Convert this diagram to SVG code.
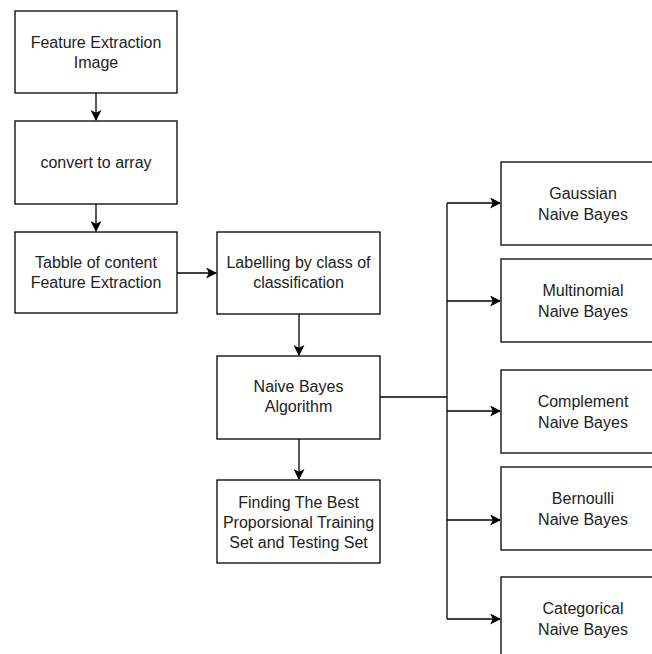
<svg xmlns="http://www.w3.org/2000/svg" width="652" height="654" viewBox="0 0 652 654">
<defs>
<marker id="arr" viewBox="0 0 10 10" refX="9" refY="5" markerWidth="11" markerHeight="11" markerUnits="userSpaceOnUse" orient="auto">
<path d="M0,0 L10,5 L0,10 L2.5,5 Z" fill="#000"/>
</marker>
<style>
.box{fill:#fff;stroke:#000;stroke-width:1.3}
.t{font-family:"Liberation Sans",Arial,sans-serif;font-size:16px;fill:#222;text-anchor:middle}
.c{fill:none;stroke:#000;stroke-width:1.3}
</style>
</defs>
<rect width="652" height="654" fill="#fff"/>
<g id="connectors">
<path class="c" d="M96,93 V120" marker-end="url(#arr)"/>
<path class="c" d="M96,204 V231" marker-end="url(#arr)"/>
<path class="c" d="M176,273 H216" marker-end="url(#arr)"/>
<path class="c" d="M299,314 V355" marker-end="url(#arr)"/>
<path class="c" d="M299,439 V479" marker-end="url(#arr)"/>
<path class="c" d="M380,397 H447"/>
<path class="c" d="M447,203 V619"/>
<path class="c" d="M447,203 H500" marker-end="url(#arr)"/>
<path class="c" d="M447,301 H500" marker-end="url(#arr)"/>
<path class="c" d="M447,411 H500" marker-end="url(#arr)"/>
<path class="c" d="M447,520 H500" marker-end="url(#arr)"/>
<path class="c" d="M447,619 H500" marker-end="url(#arr)"/>
</g>
<g id="n1"><rect class="box" x="15" y="11" width="162" height="82"/>
<text class="t" x="96" y="48">Feature Extraction</text><text class="t" x="96" y="68">Image</text></g>
<g id="n2"><rect class="box" x="15" y="121" width="162" height="83"/>
<text class="t" x="96" y="168">convert to array</text></g>
<g id="n3"><rect class="box" x="15" y="232" width="162" height="81"/>
<text class="t" x="96" y="268">Tabble of content</text><text class="t" x="96" y="288">Feature Extraction</text></g>
<g id="n4"><rect class="box" x="217" y="232" width="163" height="82"/>
<text class="t" x="298.5" y="268">Labelling by class of</text><text class="t" x="298.5" y="288">classification</text></g>
<g id="n5"><rect class="box" x="217" y="356" width="163" height="83"/>
<text class="t" x="298.5" y="392">Naive Bayes</text><text class="t" x="298.5" y="412">Algorithm</text></g>
<g id="n6"><rect class="box" x="217" y="480" width="163" height="83"/>
<text class="t" x="298.5" y="508">Finding The Best</text><text class="t" x="298.5" y="528">Proporsional Training</text><text class="t" x="298.5" y="548">Set and Testing Set</text></g>
<g id="n7"><rect class="box" x="501" y="162" width="164" height="83"/>
<text class="t" x="583" y="199">Gaussian</text><text class="t" x="583" y="220">Naive Bayes</text></g>
<g id="n8"><rect class="box" x="501" y="259" width="164" height="83"/>
<text class="t" x="583" y="296">Multinomial</text><text class="t" x="583" y="317">Naive Bayes</text></g>
<g id="n9"><rect class="box" x="501" y="370" width="164" height="83"/>
<text class="t" x="583" y="407">Complement</text><text class="t" x="583" y="428">Naive Bayes</text></g>
<g id="n10"><rect class="box" x="501" y="467" width="164" height="83"/>
<text class="t" x="583" y="504">Bernoulli</text><text class="t" x="583" y="525">Naive Bayes</text></g>
<g id="n11"><rect class="box" x="501" y="577" width="164" height="83"/>
<text class="t" x="583" y="614">Categorical</text><text class="t" x="583" y="635">Naive Bayes</text></g>
</svg>
